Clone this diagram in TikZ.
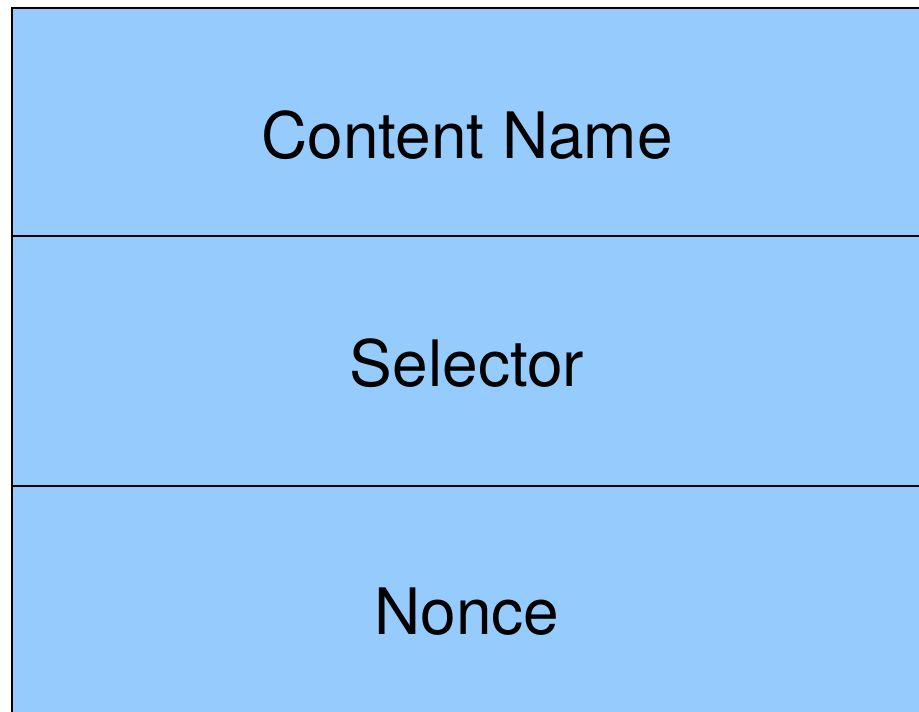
\documentclass[tikz,border=0pt]{standalone}
\usepackage{fontspec}
\setmainfont{TeX Gyre Heros}
\usetikzlibrary{positioning}
\definecolor{cellblue}{RGB}{149,204,253}

\begin{document}
\begin{tikzpicture}[x=1pt, y=-1pt, cell/.style={draw=black, fill=cellblue, line width=2pt}, field/.style={font=\fontsize{64}{76}\selectfont, inner sep=0pt}]
        % Fix the page to the size of the picture
        \useasboundingbox (0,0) rectangle (919,712);
        \clip (0,0) rectangle (919,712);

        % Corners of the cells
        \coordinate (tl) at (12,8);
        \coordinate (m1) at (12,236);
        \coordinate (m2) at (12,486);
        \coordinate (br) at (940,730);

        % Draw the three stacked cells
        \draw[cell] (tl) rectangle (br);
        \draw[line width=2pt] (m1) -- ++(940,0);
        \draw[line width=2pt] (m2) -- ++(940,0);

        % Field names
        \node[field] (name) at (467,135) {Content Name};
        \node[field] (sel) at (467,363) {Selector};
        \node[field] (nonce) at (467,612) {Nonce};
      \end{tikzpicture}
\end{document}
